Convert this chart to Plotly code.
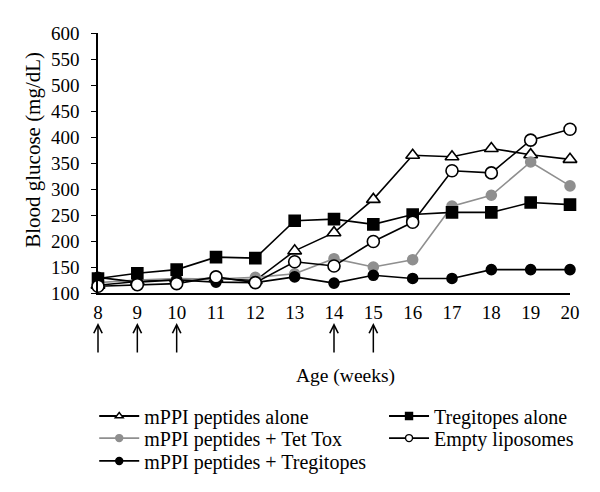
import plotly.graph_objects as go

weeks = [8, 9, 10, 11, 12, 13, 14, 15, 16, 17, 18, 19, 20]
mppi_alone = [115, 122, 127, 128, 124, 181, 216, 280, 365, 362, 378, 366, 357]
mppi_tettox = [120, 125, 128, 127, 130, 137, 166, 150, 164, 267, 288, 352, 306]
mppi_tregitopes = [130, 121, 125, 121, 120, 131, 119, 134, 128, 128, 145, 145, 145]
tregitopes_alone = [128, 138, 145, 169, 167, 239, 242, 232, 251, 255, 255, 274, 270]
empty_liposomes = [113, 116, 118, 131, 120, 160, 152, 199, 236, 335, 331, 394, 415]
injection_weeks = [8, 9, 10, 14, 15]
y_ticks = [100, 150, 200, 250, 300, 350, 400, 450, 500, 550, 600]

FONT = "Liberation Serif"
LFS = 20
fig = go.Figure()

def add(name, y, symbol, color, fill, size, lcolor, legend, lsize):
    fig.add_trace(go.Scatter(
        x=weeks, y=y, name=name, mode="lines+markers", cliponaxis=False,
        line=dict(color=lcolor, width=1.6),
        marker=dict(symbol=symbol, size=size, color=fill, line=dict(color=color, width=1.6)),
        showlegend=False,
    ))
    # legend sample with smaller marker
    fig.add_trace(go.Scatter(
        x=[None], y=[None], name=name, mode="lines+markers",
        line=dict(color=lcolor, width=1.8),
        marker=dict(symbol=symbol, size=lsize, color=fill, line=dict(color=color, width=1.4)),
        legend=legend,
    ))

add("mPPI peptides alone", mppi_alone, "triangle-up", "black", "white", 12, "black", "legend", 7)
add("mPPI peptides + Tet Tox", mppi_tettox, "circle", "#8f8f8f", "#8f8f8f", 10, "#8f8f8f", "legend2", 7)
add("mPPI peptides + Tregitopes", mppi_tregitopes, "circle", "black", "black", 10, "black", "legend3", 7)
add("Tregitopes alone", tregitopes_alone, "square", "black", "black", 11, "black", "legend4", 7)
add("Empty liposomes", empty_liposomes, "circle", "black", "white", 12, "black", "legend5", 7)

for w in injection_weeks:
    fig.add_annotation(x=w, y=100, xref="x", yref="y", text="", showarrow=True,
                       ax=0, ay=31, axref="pixel", ayref="pixel", yshift=-30,
                       arrowhead=5, arrowsize=1.1, arrowwidth=1.5, arrowcolor="black")

fig.add_annotation(text="Age (weeks)", x=0.525, y=-0.319, xref="paper", yref="paper",
                   xanchor="center", yanchor="middle",
                   showarrow=False, font=dict(size=19.5, color="black", family=FONT))
fig.add_annotation(text="Blood glucose (mg/dL)", x=-0.138, y=0.55, xref="paper", yref="paper",
                   xanchor="center", yanchor="middle",
                   showarrow=False, textangle=-90, font=dict(size=21, color="black", family=FONT))

def leg(x, y):
    return dict(x=x, y=y, xanchor="left", yanchor="middle", orientation="v",
                font=dict(size=LFS, family=FONT, color="black"), itemwidth=40,
                bgcolor="rgba(0,0,0,0)", borderwidth=0)

fig.update_layout(
    width=600, height=492,
    margin=dict(l=98, r=30, t=33, b=199, autoexpand=False),
    paper_bgcolor="white", plot_bgcolor="white",
    font=dict(family=FONT, size=19, color="black"),
    xaxis=dict(range=[8, 20], tickvals=weeks, showgrid=False, zeroline=False,
               showline=True, linecolor="black", linewidth=1.5, ticks="",
               ticklabelstandoff=1, tickfont=dict(size=19)),
    yaxis=dict(range=[100, 600], tickvals=y_ticks, showgrid=False, zeroline=False,
               showline=True, linecolor="black", linewidth=1.5, ticks="outside",
               ticklen=5, tickcolor="black", ticklabelstandoff=8, tickfont=dict(size=19)),
    legend=leg(-0.008, -0.473),
    legend2=leg(-0.008, -0.558),
    legend3=leg(-0.008, -0.646),
    legend4=leg(0.606, -0.473),
    legend5=leg(0.606, -0.558),
)

fig.write_html("out.html", config={"displayModeBar": False},
               post_script="document.body.style.margin='0px';")
